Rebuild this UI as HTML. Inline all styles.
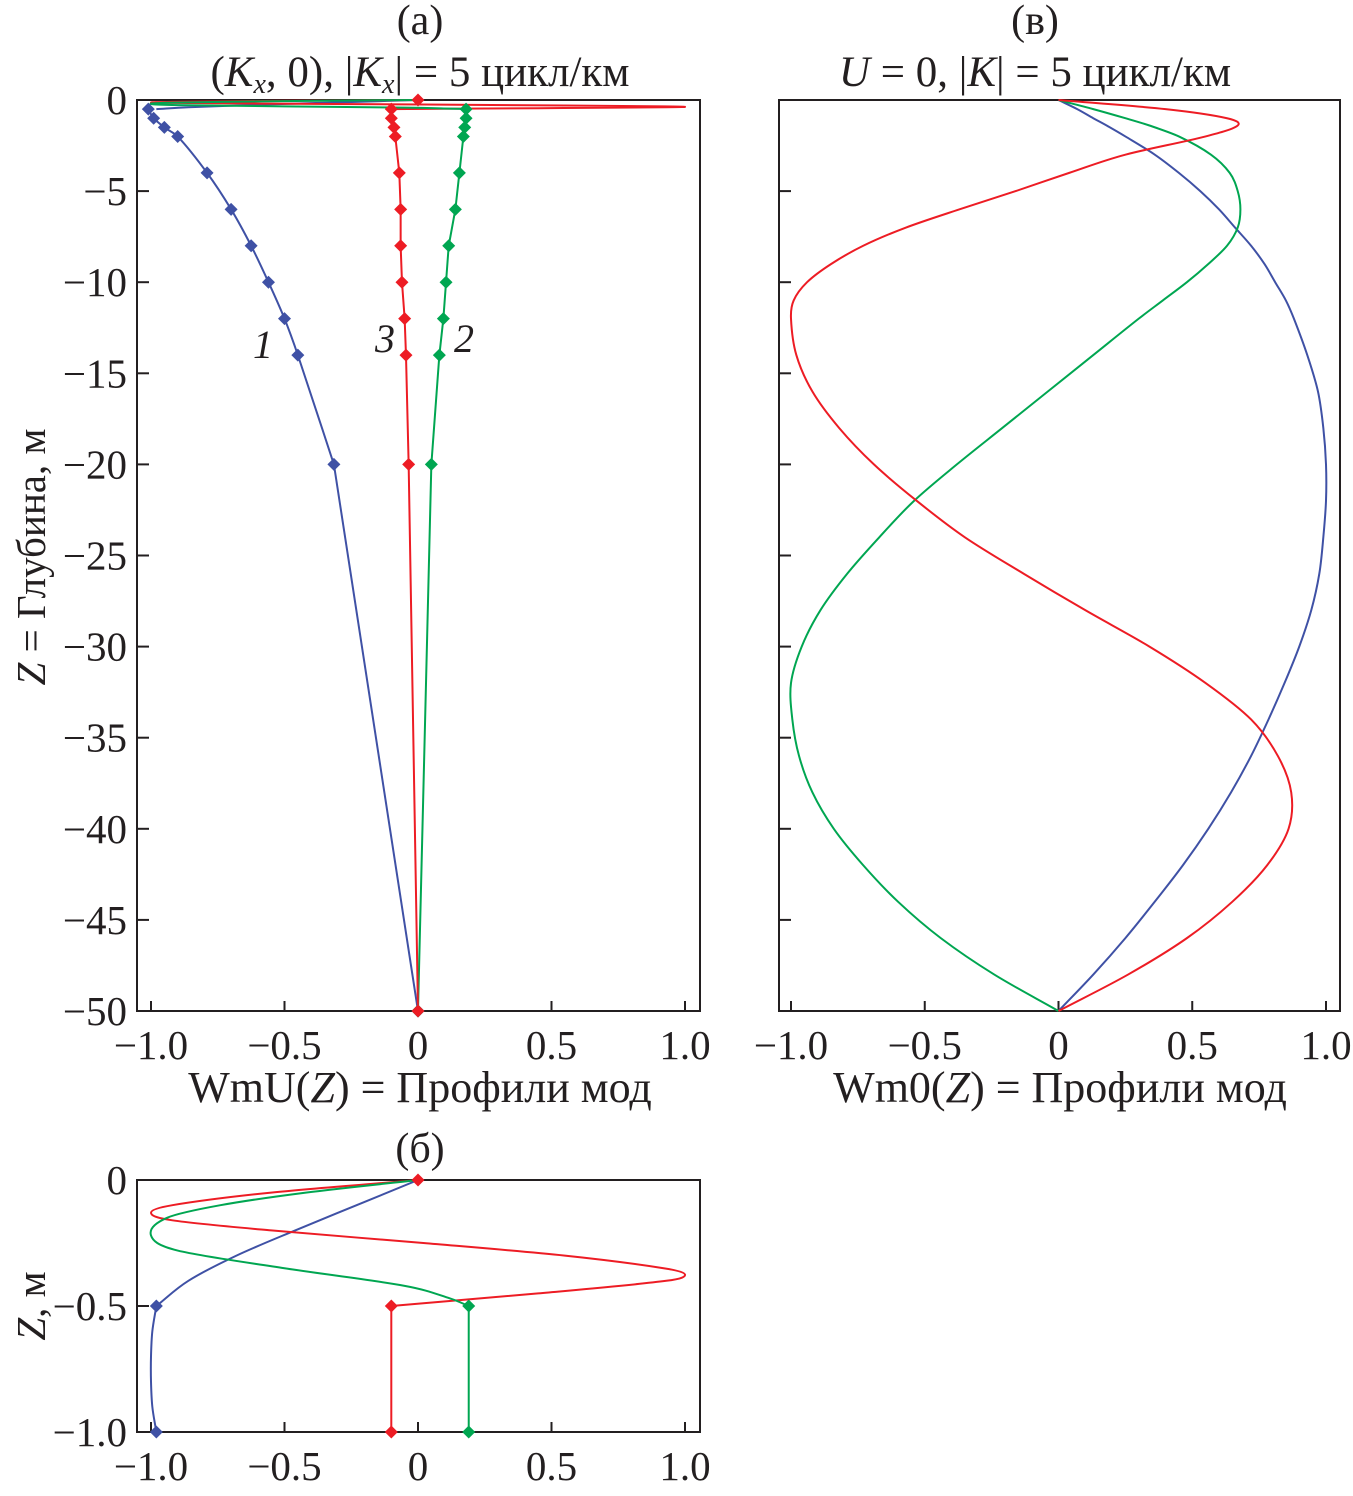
<!DOCTYPE html>
<html><head><meta charset="utf-8"><style>
body{margin:0;background:#fff;}
svg text{font-family:"Liberation Serif",serif;fill:#231f20;}
</style></head><body>
<svg id="fig" width="1353" height="1491" viewBox="0 0 1353 1491" xmlns="http://www.w3.org/2000/svg"></svg>
<script>
// Panel (a)/(б) marker data
const zMarks = [0.5,1,1.5,2,4,6,8,10,12,14,20,50];
const blueMarks = [-1.01,-0.99,-0.95,-0.9,-0.79,-0.70,-0.625,-0.56,-0.50,-0.45,-0.315,0];
const greenMarks = [0.18,0.18,0.175,0.17,0.155,0.14,0.115,0.105,0.095,0.08,0.05,0];
const redMarks = [-0.1,-0.1,-0.09,-0.085,-0.07,-0.065,-0.065,-0.06,-0.05,-0.045,-0.035,0];
// upper 0.5 m detail
const zBlueTop = [0,0.1,0.2,0.3,0.4,0.5];
const blueTop = [0,-0.23,-0.46,-0.68,-0.86,-0.98];
const zRedTop = [0,0.05,0.1,0.13,0.16,0.2,0.25,0.3,0.35,0.375,0.4,0.45,0.5];
const redTop = [0,-0.55,-0.92,-1.0,-0.92,-0.55,0.02,0.55,0.92,1.0,0.93,0.45,-0.1];
const zGreenTop = [0,0.05,0.1,0.15,0.22,0.28,0.35,0.42,0.47,0.5];
const greenTop = [0,-0.42,-0.74,-0.94,-1.0,-0.9,-0.5,-0.05,0.12,0.19];
// panel (б) lower part
const zLow = [0.5,0.6,0.7,0.8,0.9,1.0];
const blueLow = [-0.98,-0.995,-1.0,-1.0,-0.995,-0.98];
const redLow = [-0.1,-0.1,-0.1,-0.1,-0.1,-0.1];
const greenLow = [0.19,0.19,0.19,0.19,0.19,0.19];
// panel (в)
const zV = [0,0.5,1,1.4,2,3,4,5,6,7,8,9,10,11,12,14,16,18,20,22,24,26,28,30,32,34,36,38,40,42,44,46,48,50];
const blueV = [0,0.07,0.13,0.18,0.25,0.36,0.45,0.53,0.6,0.66,0.72,0.77,0.81,0.85,0.88,0.93,0.97,0.99,1.0,1.0,0.99,0.975,0.945,0.9,0.845,0.785,0.72,0.645,0.56,0.465,0.36,0.25,0.13,0];
const greenV = [0,0.13,0.25,0.34,0.45,0.57,0.64,0.67,0.68,0.67,0.63,0.56,0.48,0.39,0.30,0.13,-0.04,-0.21,-0.38,-0.54,-0.67,-0.79,-0.89,-0.96,-1.0,-0.995,-0.97,-0.92,-0.84,-0.73,-0.6,-0.44,-0.24,0];
const redV = [0,0.4,0.63,0.67,0.55,0.25,0.04,-0.16,-0.37,-0.57,-0.73,-0.85,-0.94,-0.99,-1.0,-0.98,-0.92,-0.82,-0.69,-0.53,-0.35,-0.13,0.1,0.34,0.55,0.72,0.82,0.87,0.86,0.78,0.65,0.48,0.26,0];
const xTicks = [-1,-0.5,0,0.5,1];
const xTickLabels = ["\u22121.0","\u22120.5","0","0.5","1.0"];

const NS="http://www.w3.org/2000/svg";
const svg=document.getElementById('fig');
function el(tag,attrs,parent){const e=document.createElementNS(NS,tag);for(const k in attrs)e.setAttribute(k,attrs[k]);(parent||svg).appendChild(e);return e;}
const BLUE="#3f51a5",GREEN="#00a651",RED="#ed1c24";

function hermitePath(zs,vs,X,Y){
  const n=zs.length,m=[];
  for(let i=0;i<n;i++){
    const a=Math.max(0,i-1),b=Math.min(n-1,i+1);
    m.push((vs[b]-vs[a])/(zs[b]-zs[a]));
  }
  let d=`M${X(vs[0])},${Y(zs[0])}`;
  for(let i=0;i<n-1;i++){
    const h=zs[i+1]-zs[i];
    d+=` C${X(vs[i]+m[i]*h/3)},${Y(zs[i]+h/3)} ${X(vs[i+1]-m[i+1]*h/3)},${Y(zs[i+1]-h/3)} ${X(vs[i+1])},${Y(zs[i+1])}`;
  }
  return d;
}
function makePanel(name,x0,x1,y0,y1,xs,ys,zmax,yTicks,yLabels){
  const g=el('g',{});
  
  
  const X=v=>xs[0]+(v+1)/2*(xs[1]-xs[0]);
  const Y=z=>ys[0]+z/zmax*(ys[1]-ys[0]);
  const box=el('rect',{x:x0,y:y0,width:x1-x0,height:y1-y0,fill:'none',stroke:'#231f20','stroke-width':2},g);
  
  
  xTicks.forEach((t,i)=>{
    el('line',{x1:X(t),x2:X(t),y1:y1,y2:y1-10,stroke:'#231f20','stroke-width':2},g);
    const tx=el('text',{x:X(t),y:y1+48,'font-size':41,'text-anchor':'middle'},g);
    tx.textContent=xTickLabels[i];
    
    
  });
  yTicks.forEach((t,i)=>{
    el('line',{x1:x0,x2:x0+12,y1:Y(t),y2:Y(t),stroke:'#231f20','stroke-width':2},g);
    if(yLabels){
      const tx=el('text',{x:x0-10,y:Y(t)+14,'font-size':41,'text-anchor':'end'},g);
      tx.textContent=yLabels[i];
      
      
    }
  });
  return {g,X,Y};
}
function curve(p,zs,vs,color,name,smooth){
  const d=smooth?hermitePath(zs,vs,p.X,p.Y):'M'+zs.map((z,i)=>p.X(vs[i])+','+p.Y(z)).join(' L');
  const path=el('path',{d:d,fill:'none',stroke:color,'stroke-width':2},p.g);
  
  
}
function marks(p,zs,vs,color,name){
  zs.forEach((z,i)=>{
    const x=p.X(vs[i]),y=p.Y(z),r=6.5;
    const m=el('polygon',{points:`${x},${y-r} ${x+r},${y} ${x},${y+r} ${x-r},${y}`,fill:color},p.g);
    
    
  });
}
function txt(x,y,s,size,name,extra){
  const t=el('text',Object.assign({x:x,y:y,'font-size':size,'text-anchor':'middle'},extra||{}));
  t.innerHTML=s;
  
  
  return t;
}

// Panel (a)
const aTicks=[0,5,10,15,20,25,30,35,40,45,50];
const aLabels=aTicks.map(t=>t===0?"0":"\u2212"+t);
const pa=makePanel('panel-a',137,700,100,1011,[151,685],[100,1011],50,aTicks,aLabels);
curve(pa,zBlueTop,blueTop,BLUE,'series-1-blue',true);
curve(pa,zRedTop,redTop,RED,'series-3-red',true);
curve(pa,zGreenTop,greenTop,GREEN,'series-2-green',true);
curve(pa,zMarks.slice(0,11),blueMarks.slice(0,11),BLUE,'series-1-blue',true);
curve(pa,zMarks.slice(10),blueMarks.slice(10),BLUE,'series-1-blue',false);
curve(pa,zMarks,greenMarks,GREEN,'series-2-green',false);
curve(pa,zMarks,redMarks,RED,'series-3-red',false);
marks(pa,zMarks,blueMarks,BLUE,'marker-1');
marks(pa,zMarks,greenMarks,GREEN,'marker-2');
marks(pa,zMarks,redMarks,RED,'marker-3');
marks(pa,[0],[0],RED,'marker-3');

// Panel (б)
const pb=makePanel('panel-b',137,700,1180,1432,[151,685],[1180,1432],1,[0,0.5,1],["0","\u22120.5","\u22121.0"]);
curve(pb,zBlueTop,blueTop,BLUE,'series-1-blue',true);
curve(pb,zRedTop,redTop,RED,'series-3-red',true);
curve(pb,zGreenTop,greenTop,GREEN,'series-2-green',true);
curve(pb,zLow,blueLow,BLUE,'series-1-blue',true);
curve(pb,zLow,redLow,RED,'series-3-red',false);
curve(pb,zLow,greenLow,GREEN,'series-2-green',false);
marks(pb,[0.5,1],[blueLow[0],blueLow[5]],BLUE,'marker-1');
marks(pb,[0.5,1],[greenLow[0],greenLow[5]],GREEN,'marker-2');
marks(pb,[0,0.5,1],[0,redLow[0],redLow[5]],RED,'marker-3');

// Panel (в)
const pv=makePanel('panel-v',779,1340,100,1011,[791,1326],[100,1011],50,aTicks,null);
curve(pv,zV,blueV,BLUE,'series-blue',true);
curve(pv,zV,greenV,GREEN,'series-green',true);
curve(pv,zV,redV,RED,'series-red',true);

// Titles and labels
txt(420,34,'(а)',42,'panel-a-letter');
txt(420,86,'(<tspan font-style="italic">K</tspan><tspan font-style="italic" font-size="28" dy="7">x</tspan><tspan dy="-7">, 0), |</tspan><tspan font-style="italic">K</tspan><tspan font-style="italic" font-size="28" dy="7">x</tspan><tspan dy="-7">| = 5 цикл/км</tspan>',43,'panel-a-title');
txt(1035,34,'(в)',42,'panel-v-letter');
txt(1035,86,'<tspan font-style="italic">U</tspan> = 0, |<tspan font-style="italic">K</tspan>| = 5 цикл/км',43,'panel-v-title');
txt(420,1162,'(б)',42,'panel-b-letter');
txt(420,1102,'WmU(<tspan font-style="italic">Z</tspan>) = Профили мод',44,'x-axis-title-a');
txt(1060,1102,'Wm0(<tspan font-style="italic">Z</tspan>) = Профили мод',44,'x-axis-title-v');
txt(0,0,'<tspan font-style="italic">Z</tspan> = Глубина, м',41,'y-axis-title-a',{transform:'translate(45,557) rotate(-90)'});
txt(0,0,'<tspan font-style="italic">Z</tspan>, м',41,'y-axis-title-b',{transform:'translate(45,1306) rotate(-90)'});
txt(263,358,'1',40,'label-1',{'font-style':'italic'});
txt(385,352,'3',40,'label-3',{'font-style':'italic'});
txt(464,352,'2',40,'label-2',{'font-style':'italic'});
</script>
</body></html>
